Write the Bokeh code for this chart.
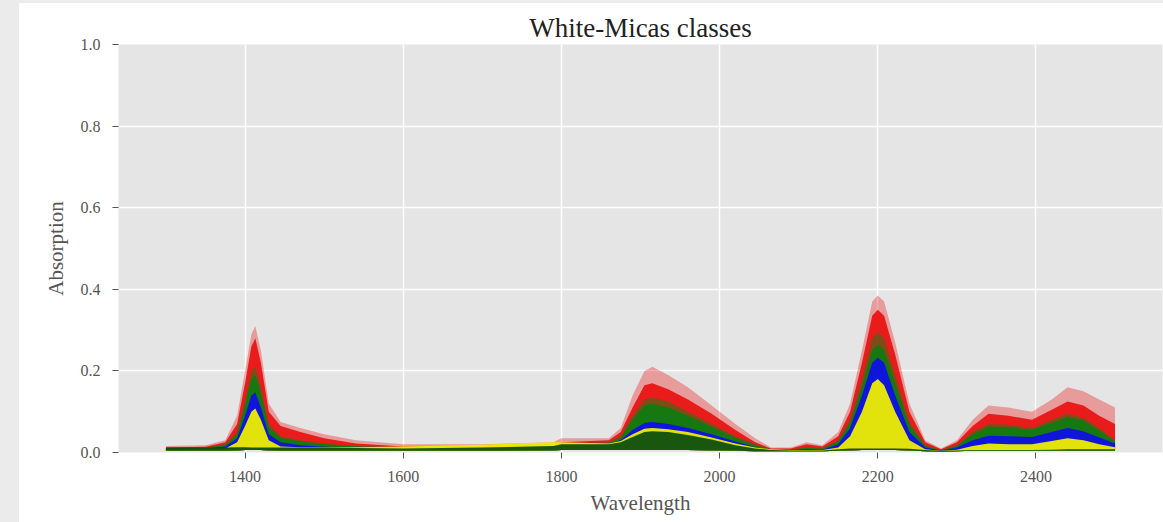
from bokeh.plotting import figure
from bokeh.models import Range1d, FixedTicker, NumeralTickFormatter, Spacer
from bokeh.layouts import column, row
from bokeh.embed import file_html
from bokeh.resources import INLINE

# Wavelength sample points (nm)
wl = [1300, 1350, 1375, 1390, 1400, 1408, 1413, 1420, 1430, 1445,
      1470, 1500, 1540, 1600, 1700, 1790, 1800, 1860, 1875, 1890,
      1905, 1915, 1935, 1960, 1990, 2020, 2045, 2065, 2090, 2110,
      2130, 2150, 2165, 2180, 2193, 2200, 2208, 2222, 2240, 2260,
      2280, 2300, 2320, 2340, 2365, 2395, 2420, 2440, 2460, 2480, 2500]

# lowest spectra
floor = [0.004, 0.004, 0.004, 0.005, 0.006, 0.006, 0.006, 0.006, 0.005, 0.004,
         0.004, 0.004, 0.004, 0.004, 0.004, 0.005, 0.006, 0.006, 0.006, 0.006,
         0.006, 0.006, 0.006, 0.006, 0.005, 0.004, 0.003, 0.003, 0.003, 0.003,
         0.003, 0.004, 0.005, 0.006, 0.006, 0.006, 0.006, 0.006, 0.005, 0.003,
         0.002, 0.003, 0.004, 0.004, 0.004, 0.004, 0.004, 0.004, 0.004, 0.004, 0.004]

# class "red" : upper (faint) envelope and dense core
red_top = [0.016, 0.018, 0.030, 0.090, 0.200, 0.290, 0.310, 0.250, 0.120, 0.075,
           0.060, 0.045, 0.030, 0.020, 0.020, 0.025, 0.035, 0.035, 0.060, 0.140,
           0.200, 0.210, 0.190, 0.160, 0.115, 0.070, 0.035, 0.012, 0.012, 0.025,
           0.018, 0.050, 0.120, 0.250, 0.370, 0.385, 0.370, 0.270, 0.120, 0.030,
           0.010, 0.030, 0.080, 0.115, 0.110, 0.100, 0.130, 0.160, 0.150, 0.130, 0.110]
red_core = [0.012, 0.014, 0.025, 0.070, 0.170, 0.260, 0.280, 0.220, 0.100, 0.065,
            0.050, 0.035, 0.022, 0.015, 0.015, 0.020, 0.025, 0.030, 0.050, 0.110,
            0.165, 0.170, 0.155, 0.130, 0.095, 0.055, 0.025, 0.010, 0.010, 0.020,
            0.015, 0.040, 0.100, 0.220, 0.335, 0.350, 0.335, 0.240, 0.100, 0.025,
            0.008, 0.025, 0.065, 0.095, 0.090, 0.080, 0.105, 0.125, 0.115, 0.090, 0.070]

# class "green"
green_top = [0.012, 0.013, 0.020, 0.050, 0.130, 0.200, 0.210, 0.160, 0.070, 0.040,
             0.030, 0.022, 0.016, 0.013, 0.013, 0.018, 0.022, 0.025, 0.040, 0.090,
             0.130, 0.135, 0.125, 0.100, 0.070, 0.040, 0.020, 0.008, 0.008, 0.012,
             0.010, 0.030, 0.080, 0.180, 0.280, 0.295, 0.280, 0.190, 0.075, 0.018,
             0.006, 0.018, 0.050, 0.070, 0.068, 0.060, 0.080, 0.095, 0.085, 0.060, 0.030]
green_core = [0.011, 0.012, 0.018, 0.045, 0.115, 0.180, 0.190, 0.145, 0.062, 0.036,
              0.027, 0.020, 0.015, 0.012, 0.012, 0.016, 0.020, 0.023, 0.036, 0.080,
              0.115, 0.120, 0.110, 0.090, 0.063, 0.036, 0.018, 0.007, 0.007, 0.011,
              0.009, 0.027, 0.072, 0.160, 0.250, 0.265, 0.250, 0.170, 0.068, 0.016,
              0.005, 0.016, 0.045, 0.063, 0.062, 0.055, 0.073, 0.087, 0.078, 0.054, 0.027]
# low-valued green spectra drawn last (dark band at the bottom)
green_low = [0.012, 0.012, 0.012, 0.013, 0.013, 0.012, 0.012, 0.012, 0.012, 0.012,
             0.012, 0.012, 0.011, 0.010, 0.012, 0.016, 0.020, 0.020, 0.025, 0.038,
             0.050, 0.052, 0.050, 0.043, 0.032, 0.018, 0.010, 0.006, 0.005, 0.005,
             0.005, 0.008, 0.010, 0.010, 0.010, 0.010, 0.010, 0.010, 0.009, 0.006,
             0.004, 0.005, 0.006, 0.006, 0.006, 0.006, 0.007, 0.008, 0.008, 0.008, 0.008]

# class "blue"
blue_top = [0.009, 0.010, 0.015, 0.035, 0.090, 0.140, 0.147, 0.110, 0.045, 0.025,
            0.018, 0.014, 0.011, 0.010, 0.011, 0.015, 0.018, 0.020, 0.030, 0.055,
            0.072, 0.075, 0.070, 0.060, 0.045, 0.027, 0.013, 0.006, 0.006, 0.008,
            0.007, 0.020, 0.060, 0.140, 0.220, 0.232, 0.220, 0.140, 0.050, 0.012,
            0.005, 0.012, 0.030, 0.041, 0.040, 0.038, 0.050, 0.060, 0.052, 0.037, 0.022]

# class "yellow"
yellow_top = [0.007, 0.008, 0.010, 0.025, 0.065, 0.100, 0.108, 0.080, 0.030, 0.015,
              0.013, 0.013, 0.013, 0.015, 0.019, 0.025, 0.025, 0.022, 0.028, 0.045,
              0.058, 0.060, 0.057, 0.050, 0.037, 0.022, 0.012, 0.008, 0.006, 0.006,
              0.006, 0.012, 0.040, 0.100, 0.170, 0.180, 0.165, 0.100, 0.030, 0.008,
              0.004, 0.007, 0.016, 0.022, 0.020, 0.020, 0.028, 0.035, 0.030, 0.020, 0.013]

x_ticks = [1400, 1600, 1800, 2000, 2200, 2400]
y_ticks = [0.0, 0.2, 0.4, 0.6, 0.8, 1.0]

SERIF = "Liberation Serif"

p = figure(width=1144, height=519, output_backend="svg", toolbar_location=None,
           x_range=Range1d(1240, 2560), y_range=Range1d(0, 1.0),
           min_border_left=99, min_border_right=1, min_border_top=41, min_border_bottom=70,
           background_fill_color="#e5e5e5", border_fill_color="white",
           outline_line_color=None)

p.title.text = "White-Micas classes"
p.title.align = "center"
p.title.text_font = SERIF
p.title.text_font_size = "27px"
p.title.text_font_style = "normal"
p.title.text_color = "#222222"
p.title.standoff = 4

# spectra bands
p.varea(x=wl, y1=floor, y2=red_top, fill_color="#ee1111", fill_alpha=0.35)
p.varea(x=wl, y1=floor, y2=red_core, fill_color="#e81010", fill_alpha=0.92)
p.varea(x=wl, y1=floor, y2=green_top, fill_color="#118011", fill_alpha=0.5)
p.varea(x=wl, y1=floor, y2=green_core, fill_color="#107a10", fill_alpha=0.95)
p.varea(x=wl, y1=floor, y2=blue_top, fill_color="#1010e8", fill_alpha=0.95)
p.varea(x=wl, y1=floor, y2=yellow_top, fill_color="#eeee00", fill_alpha=0.95)
p.varea(x=wl, y1=floor, y2=green_low, fill_color="#0f4f0f", fill_alpha=0.95)

for ax in (p.xaxis[0], p.yaxis[0]):
    ax.axis_line_color = None
    ax.major_tick_line_color = "#555555"
    ax.major_tick_out = 6
    ax.major_tick_in = 0
    ax.minor_tick_line_color = None
    ax.major_label_text_font = SERIF
    ax.major_label_text_font_size = "16px"
    ax.major_label_text_color = "#555555"
    ax.axis_label_text_font = SERIF
    ax.axis_label_text_font_size = "21px"
    ax.axis_label_text_font_style = "normal"
    ax.axis_label_text_color = "#555555"

p.xaxis.ticker = FixedTicker(ticks=x_ticks)
p.yaxis.ticker = FixedTicker(ticks=y_ticks)
p.yaxis.formatter = NumeralTickFormatter(format="0.0")
p.xaxis.axis_label = "Wavelength"
p.yaxis.axis_label = "Absorption"
p.xaxis.major_label_standoff = 12
p.yaxis.major_label_standoff = 12
p.xaxis.axis_label_standoff = 6
p.yaxis.axis_label_standoff = 10

p.grid.grid_line_color = "white"
p.grid.grid_line_width = 1.5
p.xgrid.ticker = FixedTicker(ticks=x_ticks)
p.ygrid.ticker = FixedTicker(ticks=y_ticks)

top_strip = Spacer(width=1163, height=3, styles={"background-color": "#ebebeb"})
left_strip = Spacer(width=19, height=519, styles={"background-color": "#ebebeb"})
page = column(top_strip, row(left_strip, p))

open("out.html", "w").write(file_html(page, INLINE))
